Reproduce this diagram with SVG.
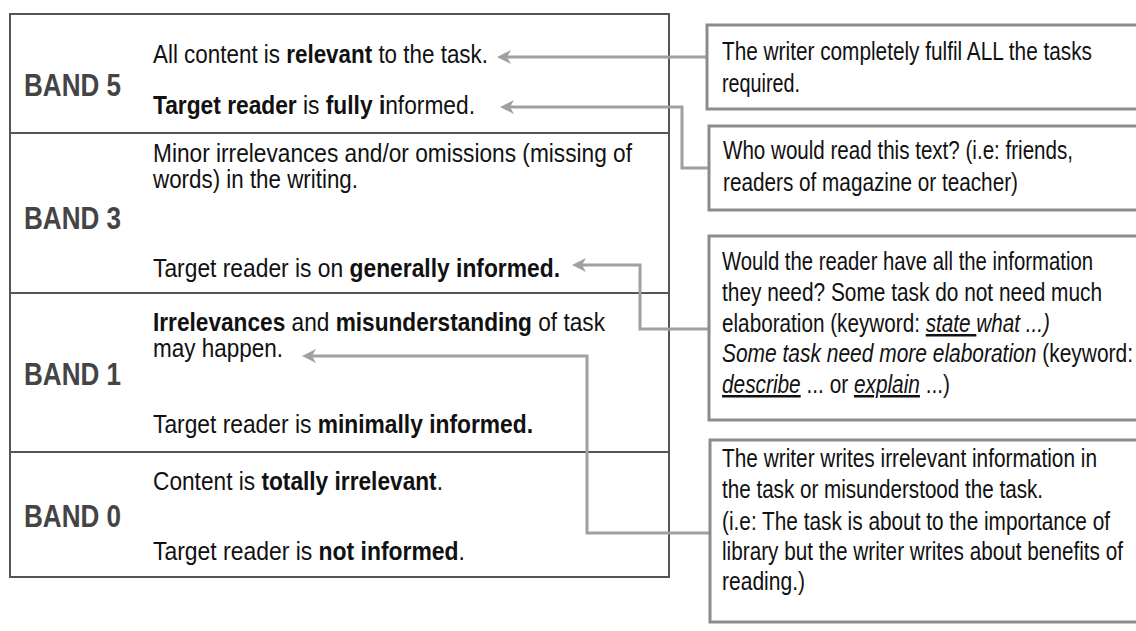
<svg xmlns="http://www.w3.org/2000/svg" width="1136" height="631" viewBox="0 0 1136 631">
<style>
.t{font-family:"Liberation Sans",Arial,sans-serif;font-size:26px;fill:#111}
.r{font-family:"Liberation Sans",Arial,sans-serif;font-size:25px;fill:#111}
.band{font-family:"Liberation Sans",Arial,sans-serif;font-size:31px;font-weight:bold;fill:#444}
.b{font-weight:bold}
.i{font-style:italic}
.u{text-decoration:underline}
.grid{fill:none;stroke:#555;stroke-width:2}
.box{fill:#fff;stroke:#8c8c8c;stroke-width:3}
.con{fill:none;stroke:#a0a0a0;stroke-width:3}
</style>
<defs>
<marker id="ah" viewBox="0 0 14 14" refX="5" refY="7" markerWidth="14" markerHeight="14" markerUnits="userSpaceOnUse" orient="auto">
<path d="M0,0 L14,7 L0,14 L4,7 z" fill="#a0a0a0"/>
</marker>
</defs>
<rect width="1136" height="631" fill="#fff"/>
<g id="table">
<rect class="grid" x="10" y="14" width="659" height="563"/>
<line class="grid" x1="10" y1="133" x2="669" y2="133"/>
<line class="grid" x1="10" y1="293" x2="669" y2="293"/>
<line class="grid" x1="10" y1="452" x2="669" y2="452"/>
</g>
<g id="band5">
<text class="band" x="24" y="96" textLength="97" lengthAdjust="spacingAndGlyphs">BAND 5</text>
<text class="t" x="153" y="63" textLength="335" lengthAdjust="spacingAndGlyphs">All content is <tspan class="b">relevant</tspan> to the task.</text>
<text class="t" x="153" y="114" textLength="322" lengthAdjust="spacingAndGlyphs"><tspan class="b">Target reader</tspan> is <tspan class="b">fully i</tspan>nformed.</text>
</g>
<g id="band3">
<text class="band" x="24" y="229" textLength="97" lengthAdjust="spacingAndGlyphs">BAND 3</text>
<text class="t" x="153" y="162" textLength="479" lengthAdjust="spacingAndGlyphs">Minor irrelevances and/or omissions (missing of</text>
<text class="t" x="153" y="188" textLength="205" lengthAdjust="spacingAndGlyphs">words) in the writing.</text>
<text class="t" x="153" y="277" textLength="407" lengthAdjust="spacingAndGlyphs">Target reader is on <tspan class="b">generally informed.</tspan></text>
</g>
<g id="band1">
<text class="band" x="24" y="385" textLength="97" lengthAdjust="spacingAndGlyphs">BAND 1</text>
<text class="t" x="153" y="331" textLength="452" lengthAdjust="spacingAndGlyphs"><tspan class="b">Irrelevances</tspan> and <tspan class="b">misunderstanding</tspan> of task</text>
<text class="t" x="153" y="357" textLength="130" lengthAdjust="spacingAndGlyphs">may happen.</text>
<text class="t" x="153" y="433" textLength="380" lengthAdjust="spacingAndGlyphs">Target reader is <tspan class="b">minimally informed.</tspan></text>
</g>
<g id="band0">
<text class="band" x="24" y="527" textLength="97" lengthAdjust="spacingAndGlyphs">BAND 0</text>
<text class="t" x="153" y="490" textLength="290" lengthAdjust="spacingAndGlyphs">Content is <tspan class="b">totally irrelevant</tspan>.</text>
<text class="t" x="153" y="560" textLength="312" lengthAdjust="spacingAndGlyphs">Target reader is <tspan class="b">not informed</tspan>.</text>
</g>
<g id="connectors">
<path class="con" d="M707,57 L506,57" marker-end="url(#ah)"/>
<path class="con" d="M709,168 L682,168 L682,107 L509,107" marker-end="url(#ah)"/>
<path class="con" d="M709,329 L640,329 L640,265 L581,265" marker-end="url(#ah)"/>
<path class="con" d="M710,533 L587,533 L587,356 L311,356" marker-end="url(#ah)"/>
</g>
<g id="note1">
<rect class="box" x="707" y="25" width="440" height="84"/>
<text class="r" x="722" y="60" textLength="370" lengthAdjust="spacingAndGlyphs">The writer completely fulfil ALL the tasks</text>
<text class="r" x="722" y="92" textLength="78" lengthAdjust="spacingAndGlyphs">required.</text>
</g>
<g id="note2">
<rect class="box" x="709" y="126" width="440" height="84"/>
<text class="r" x="723" y="159" textLength="350" lengthAdjust="spacingAndGlyphs">Who would read this text? (i.e: friends,</text>
<text class="r" x="723" y="191" textLength="295" lengthAdjust="spacingAndGlyphs">readers of magazine or teacher)</text>
</g>
<g id="note3">
<rect class="box" x="709" y="236" width="440" height="184"/>
<text class="r" x="722" y="270" textLength="371" lengthAdjust="spacingAndGlyphs">Would the reader have all the information</text>
<text class="r" x="722" y="301" textLength="380" lengthAdjust="spacingAndGlyphs">they need? Some task do not need much</text>
<text class="r" x="722" y="332" textLength="328" lengthAdjust="spacingAndGlyphs">elaboration (keyword: <tspan class="i u">state </tspan><tspan class="i">what ...)</tspan></text>
<text class="r" x="722" y="362" textLength="411" lengthAdjust="spacingAndGlyphs"><tspan class="i">Some task need more elaboration </tspan>(keyword:</text>
<text class="r" x="722" y="393" textLength="228" lengthAdjust="spacingAndGlyphs"><tspan class="i u">describe</tspan> ... or <tspan class="i u">explain</tspan> ...)</text>
</g>
<g id="note4">
<rect class="box" x="710" y="440" width="440" height="182"/>
<text class="r" x="722" y="467" textLength="375" lengthAdjust="spacingAndGlyphs">The writer writes irrelevant information in</text>
<text class="r" x="722" y="498" textLength="321" lengthAdjust="spacingAndGlyphs">the task or misunderstood the task.</text>
<text class="r" x="722" y="530" textLength="388" lengthAdjust="spacingAndGlyphs">(i.e: The task is about to the importance of</text>
<text class="r" x="722" y="560" textLength="401" lengthAdjust="spacingAndGlyphs">library but the writer writes about benefits of</text>
<text class="r" x="722" y="590" textLength="83" lengthAdjust="spacingAndGlyphs">reading.)</text>
</g>
</svg>
